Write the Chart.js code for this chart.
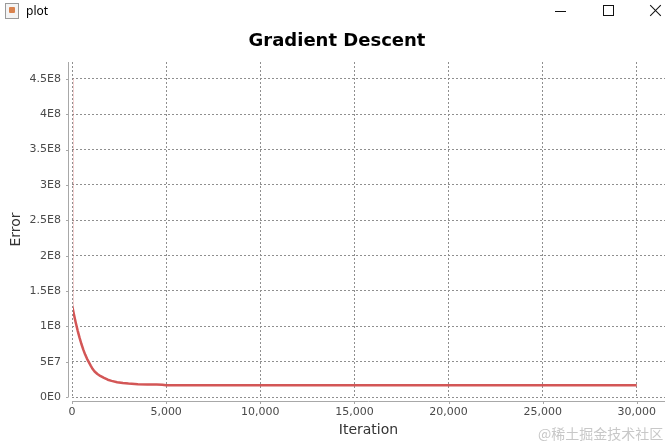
<!DOCTYPE html>
<html>
<head>
<meta charset="utf-8">
<title>plot</title>
<script src="https://cdn.jsdelivr.net/npm/chart.js@4.4.1/dist/chart.umd.min.js"></script>
<style>
    body { margin: 0; background: #fff; }
    #frame { position: relative; width: 668px; height: 446px; overflow: hidden; background: #fff; }
    #chart { position: absolute; left: 0; top: 0; }

    /* window title bar */
    .icon { position: absolute; left: 5px; top: 3px; width: 12px; height: 14px; border: 1px solid #9a9a9a; background: #f4f4f4; }
    .icon::after { content: ''; position: absolute; left: 3px; top: 3px; width: 6px; height: 6px; background: #d9834f; border-radius: 1px; }
    .win-name { position: absolute; left: 26px; top: 2px; font-family: 'Noto Sans', sans-serif; font-size: 12px; color: #000; }
    .btn-min { position: absolute; left: 555px; top: 11px; width: 11px; height: 1px; background: #111; }
    .btn-max { position: absolute; left: 603px; top: 5px; width: 9px; height: 9px; border: 1px solid #111; }
    .btn-close { position: absolute; left: 649px; top: 4px; width: 13px; height: 13px; }
    .btn-close::before, .btn-close::after { content: ''; position: absolute; left: -1px; top: 6px; width: 15px; height: 1px; background: #111; }
    .btn-close::before { transform: rotate(45deg); }
    .btn-close::after { transform: rotate(-45deg); }

    .watermark { position: absolute; left: 538px; top: 423px; font-family: 'Noto Sans CJK SC', sans-serif; font-size: 14px; color: #c8c8c8; }
</style>
</head>
<body>
<div id="frame">
    <canvas id="chart" width="668" height="446"></canvas>
    <div class="icon"></div>
    <div class="win-name">plot</div>
    <div class="btn-min"></div>
    <div class="btn-max"></div>
    <div class="btn-close"></div>
    <div class="watermark">@稀土掘金技术社区</div>
</div>
<script>
// Chart text
const chartTitle = 'Gradient Descent';
const xTitle = 'Iteration';
const yTitle = 'Error';

// Series values
const iterations = [0, 1, 100, 200, 300, 400, 500, 600, 700, 800, 900, 1000, 1100, 1200, 1350, 1500, 1700, 1900, 2100, 2400, 2700, 3000, 3500, 4000, 4500, 4800, 5000, 10000, 15000, 20000, 25000, 30000];
const errors = [4.5e8, 1.3e8, 1.17e8, 1.05e8, 9.4e7, 8.4e7, 7.5e7, 6.7e7, 6.0e7, 5.4e7, 4.9e7, 4.4e7, 3.95e7, 3.6e7, 3.25e7, 2.98e7, 2.7e7, 2.45e7, 2.28e7, 2.1e7, 1.98e7, 1.9e7, 1.82e7, 1.78e7, 1.76e7, 1.74e7, 1.66e7, 1.65e7, 1.65e7, 1.65e7, 1.65e7, 1.65e7];

// Tick values
const xTicks = [0, 5000, 10000, 15000, 20000, 25000, 30000];
const yTicks = [0, 5e7, 1e8, 1.5e8, 2e8, 2.5e8, 3e8, 3.5e8, 4e8, 4.5e8];

// Axis ranges
const xMax = 31500;
const yMax = 4.74e8;

// Colors
const colors = {
    line: '#d35656',
    grid: '#8f8f8f',
    axis: '#a8a8a8',
    tick: '#4a4a4a',
    label: '#333',
    title: '#000'
};

const tickFont = { family: "'DejaVu Sans', sans-serif", size: 11 };

// JFreeChart style tick label, e.g. 4.5E8, 5E7, 0E0
function sciLabel(v) {
    if (v === 0) return '0E0';
    const exp = Math.floor(Math.log10(v));
    const mant = Math.round(v / Math.pow(10, exp) * 10) / 10;
    return mant + 'E' + exp;
}

// Title, offset axis lines and tick marks
const jfreeLook = {
    id: 'jfreeLook',
    afterDraw(chart) {
        const { ctx, chartArea, scales } = chart;
        ctx.save();

        ctx.fillStyle = colors.title;
        ctx.font = "bold 18px 'DejaVu Sans', sans-serif";
        ctx.textAlign = 'center';
        ctx.textBaseline = 'middle';
        ctx.fillText(chartTitle, 337, 41);

        ctx.strokeStyle = colors.axis;
        ctx.lineWidth = 1;
        ctx.beginPath();
        const ax = chartArea.left - 3.5;
        const ay = chartArea.bottom + 4.5;
        ctx.moveTo(ax, chartArea.top);
        ctx.lineTo(ax, chartArea.bottom);
        ctx.moveTo(chartArea.left, ay);
        ctx.lineTo(chartArea.right, ay);
        scales.y.ticks.forEach(t => {
            const py = Math.round(scales.y.getPixelForValue(t.value)) + 0.5;
            ctx.moveTo(ax - 2.5, py);
            ctx.lineTo(ax, py);
        });
        scales.x.ticks.forEach(t => {
            const px = Math.round(scales.x.getPixelForValue(t.value)) + 0.5;
            ctx.moveTo(px, ay);
            ctx.lineTo(px, ay + 2.5);
        });
        ctx.stroke();
        ctx.restore();
    }
};

function initChart() {
    const ctx = document.getElementById('chart').getContext('2d');
    new Chart(ctx, {
        type: 'line',
        data: {
            datasets: [{
                label: yTitle,
                data: iterations.map((x, i) => ({ x: x, y: errors[i] })),
                borderColor: colors.line,
                borderWidth: 2.5,
                borderJoinStyle: 'round',
                pointRadius: 0,
                tension: 0,
                clip: { left: -1, top: 0, right: 0, bottom: 0 }
            }]
        },
        options: {
            responsive: false,
            animation: false,
            layout: { padding: { top: 62, right: 3, bottom: 0, left: 0 } },
            plugins: {
                legend: { display: false },
                tooltip: { enabled: false },
                title: { display: false }
            },
            scales: {
                x: {
                    type: 'linear',
                    min: 0,
                    max: xMax,
                    afterFit: s => { s.height = 49; },
                    afterBuildTicks: s => { s.ticks = xTicks.map(v => ({ value: v })); },
                    grid: { color: colors.grid, drawTicks: false },
                    border: { display: false, dash: [2, 2] },
                    ticks: {
                        maxRotation: 0,
                        autoSkip: false,
                        padding: 9,
                        color: colors.tick,
                        font: tickFont,
                        callback: v => v.toLocaleString('en-US')
                    },
                    title: {
                        display: true,
                        text: xTitle,
                        color: colors.label,
                        font: { family: "'DejaVu Sans', sans-serif", size: 14 },
                        padding: { top: 0, bottom: 7 }
                    }
                },
                y: {
                    min: 0,
                    max: yMax,
                    afterFit: s => { s.width = 72; },
                    afterBuildTicks: s => { s.ticks = yTicks.map(v => ({ value: v })); },
                    grid: { color: colors.grid, drawTicks: false },
                    border: { display: false, dash: [2, 2] },
                    ticks: {
                        autoSkip: false,
                        padding: 11,
                        color: colors.tick,
                        font: tickFont,
                        callback: v => sciLabel(v)
                    },
                    title: {
                        display: true,
                        text: yTitle,
                        color: colors.label,
                        font: { family: "'DejaVu Sans', sans-serif", size: 14 },
                        padding: { top: 8, bottom: 0 }
                    }
                }
            }
        },
        plugins: [jfreeLook]
    });
}

initChart();
</script>
</body>
</html>
